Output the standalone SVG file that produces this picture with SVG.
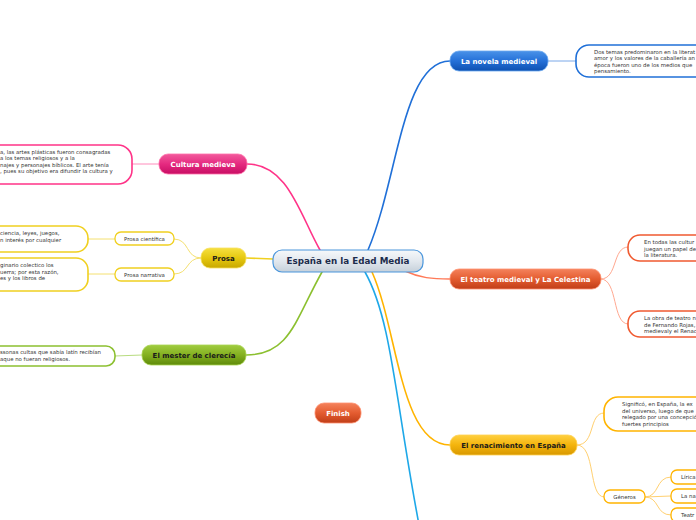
<svg xmlns="http://www.w3.org/2000/svg" width="696" height="520" viewBox="0 0 696 520">
<defs>
<linearGradient id="gPink" x1="0" y1="0" x2="0" y2="1"><stop offset="0" stop-color="#f25a9c"/><stop offset="0.5" stop-color="#e52a80"/><stop offset="1" stop-color="#c80e64"/></linearGradient>
<linearGradient id="gYel" x1="0" y1="0" x2="0" y2="1"><stop offset="0" stop-color="#f6e040"/><stop offset="0.5" stop-color="#e6c810"/><stop offset="1" stop-color="#c8a800"/></linearGradient>
<linearGradient id="gGrn" x1="0" y1="0" x2="0" y2="1"><stop offset="0" stop-color="#a0cc40"/><stop offset="0.5" stop-color="#84b020"/><stop offset="1" stop-color="#5e8a0a"/></linearGradient>
<linearGradient id="gBlu" x1="0" y1="0" x2="0" y2="1"><stop offset="0" stop-color="#4a92e8"/><stop offset="0.5" stop-color="#2470d8"/><stop offset="1" stop-color="#0e50b0"/></linearGradient>
<linearGradient id="gOr" x1="0" y1="0" x2="0" y2="1"><stop offset="0" stop-color="#f4825c"/><stop offset="0.5" stop-color="#e45c30"/><stop offset="1" stop-color="#c03e18"/></linearGradient>
<linearGradient id="gGold" x1="0" y1="0" x2="0" y2="1"><stop offset="0" stop-color="#ffd040"/><stop offset="0.5" stop-color="#f4b40c"/><stop offset="1" stop-color="#d89800"/></linearGradient>
<linearGradient id="gCen" x1="0" y1="0" x2="0" y2="1"><stop offset="0" stop-color="#f6f8fa"/><stop offset="0.5" stop-color="#e2e8ee"/><stop offset="1" stop-color="#c6d0da"/></linearGradient>
</defs>
<style>
.lbl{font-family:"DejaVu Sans",Verdana,sans-serif;font-weight:bold;font-size:7px;text-anchor:middle}
.w{fill:#ffffff}
.d{fill:#1a1a1a}
.sm{font-family:"DejaVu Sans",Verdana,sans-serif;font-size:5.4px;fill:#333333}
.smc{font-family:"DejaVu Sans",Verdana,sans-serif;font-size:5.4px;fill:#333333;text-anchor:middle}
.c{fill:none;stroke-linecap:round}
.box{fill:#ffffff;stroke-width:1.6}
</style>
<g id="connectors">
<path class="c" d="M320,250 C300,215 288,164 247,164" stroke="#ff3388" stroke-width="1.6"/>
<path class="c" d="M368,250 C398,180 402,61 450,61" stroke="#2070d8" stroke-width="1.6"/>
<path class="c" d="M273,259 L246,258" stroke="#f0d020" stroke-width="1.6"/>
<path class="c" d="M322,272 C295,320 290,355 246,355" stroke="#8cc030" stroke-width="1.6"/>
<path class="c" d="M405,271 C420,278 432,279 450,279" stroke="#ff7a58" stroke-width="1.4"/>
<path class="c" d="M372,272 C398,330 400,445 450,445" stroke="#ffb400" stroke-width="1.6"/>
<path class="c" d="M365,272 C392,320 395,400 420,530" stroke="#1ea8e8" stroke-width="1.6"/>
<path class="c" d="M159,164 L132,164" stroke="#ff8cbc" stroke-width="1"/>
<path class="c" d="M201,258 C185,258 190,239 174,239" stroke="#f4e070" stroke-width="1"/>
<path class="c" d="M201,258 C185,258 190,274 174,274" stroke="#f4e070" stroke-width="1"/>
<path class="c" d="M115,239 L88,239" stroke="#f4e070" stroke-width="1"/>
<path class="c" d="M115,274 L88,274" stroke="#f4e070" stroke-width="1"/>
<path class="c" d="M142,355 L115,356" stroke="#b8dc80" stroke-width="1"/>
<path class="c" d="M548,61 L576,61" stroke="#7aa8e8" stroke-width="1"/>
<path class="c" d="M601,279 C618,279 612,247 628,247" stroke="#ffa890" stroke-width="1"/>
<path class="c" d="M601,279 C618,279 612,324 628,324" stroke="#ffa890" stroke-width="1"/>
<path class="c" d="M577,445 C596,445 588,413 604,413" stroke="#ffd070" stroke-width="1"/>
<path class="c" d="M577,445 C596,445 588,497 604,497" stroke="#ffd070" stroke-width="1"/>
<path class="c" d="M645,497 C660,497 655,477 671,477" stroke="#ffd070" stroke-width="1"/>
<path class="c" d="M645,497 L671,496" stroke="#ffd070" stroke-width="1"/>
<path class="c" d="M645,497 C660,497 655,515 671,515" stroke="#ffd070" stroke-width="1"/>
</g>
<g id="center">
<rect x="273" y="250" width="150" height="22" rx="9" fill="url(#gCen)" stroke="#4a96dc" stroke-width="1.2"/>
<text x="348" y="264.3" class="lbl" style="font-size:8.75px;fill:#1c2c4c">España en la Edad Media</text>
</g>
<g id="cultura">
<rect x="159" y="154" width="88" height="20" rx="9" fill="url(#gPink)" stroke="#ff70aa" stroke-width="0.8"/>
<text x="203" y="166.5" class="lbl w">Cultura medieva</text>
</g>
<g id="cultura-text">
<rect x="-60" y="145" width="192" height="39" rx="14" class="box" stroke="#ff3388"/>
<text class="sm"><tspan x="0" y="153.5">a, las artes plásticas fueron consagradas</tspan><tspan x="0" y="160">a los temas religiosos y a la</tspan><tspan x="0" y="166.5">najes y personajes bíblicos. El arte tenía</tspan><tspan x="0" y="173">, pues su objetivo era difundir la cultura y</tspan></text>
</g>
<g id="prosa">
<rect x="201" y="248" width="45" height="20" rx="9" fill="url(#gYel)" stroke="#f6e060" stroke-width="0.8"/>
<text x="223.5" y="260.5" class="lbl d">Prosa</text>
</g>
<g id="prosa-cientifica">
<rect x="115" y="232" width="59" height="13" rx="6" class="box" stroke="#f0d020" style="stroke-width:1.3"/>
<text x="144.5" y="240.5" class="smc">Prosa científica</text>
</g>
<g id="prosa-narrativa">
<rect x="115" y="268" width="59" height="13" rx="6" class="box" stroke="#f0d020" style="stroke-width:1.3"/>
<text x="144.5" y="276.5" class="smc">Prosa narrativa</text>
</g>
<g id="cientifica-text">
<rect x="-60" y="226" width="148" height="26" rx="12" class="box" stroke="#f0d020"/>
<text class="sm"><tspan x="0" y="235">ciencia, leyes, juegos,</tspan><tspan x="0" y="241.5">n interés por cualquier</tspan></text>
</g>
<g id="narrativa-text">
<rect x="-60" y="258" width="148" height="33" rx="12" class="box" stroke="#f0d020"/>
<text class="sm"><tspan x="0" y="267">ginario colectico los</tspan><tspan x="0" y="273.5">uerra; por esta razón,</tspan><tspan x="0" y="280">es y los libros de</tspan></text>
</g>
<g id="mester">
<rect x="142" y="345" width="104" height="20" rx="9" fill="url(#gGrn)" stroke="#a8d450" stroke-width="0.8"/>
<text x="194" y="357.5" class="lbl d">El mester de clerecía</text>
</g>
<g id="mester-text">
<rect x="-60" y="346" width="175" height="20" rx="9" class="box" stroke="#8cc030"/>
<text class="sm"><tspan x="0" y="354">ssonas cultas que sabía latín recibían</tspan><tspan x="0" y="360.5">aque no fueran religiosos.</tspan></text>
</g>
<g id="novela">
<rect x="450" y="51" width="98" height="20" rx="9" fill="url(#gBlu)" stroke="#6aa8f0" stroke-width="0.8"/>
<text x="499" y="63.5" class="lbl w">La novela medieval</text>
</g>
<g id="novela-text">
<rect x="576" y="45" width="180" height="32" rx="13" class="box" stroke="#2070d8"/>
<text class="sm"><tspan x="594" y="53.5">Dos temas predominaron en la literat</tspan><tspan x="594" y="60">amor y los valores de la caballería an</tspan><tspan x="594" y="66.5">época fueron uno de los medios que</tspan><tspan x="594" y="73">pensamiento.</tspan></text>
</g>
<g id="teatro">
<rect x="450" y="269" width="151" height="20" rx="9" fill="url(#gOr)" stroke="#ff9070" stroke-width="0.8"/>
<text x="525.5" y="281.5" class="lbl w">El teatro medieval y La Celestina</text>
</g>
<g id="teatro-text1">
<rect x="628" y="235" width="120" height="26" rx="12" class="box" stroke="#f05a30"/>
<text class="sm"><tspan x="644" y="244">En todas las cultur</tspan><tspan x="644" y="250.5">juegan un papel de</tspan><tspan x="644" y="257">la literatura.</tspan></text>
</g>
<g id="teatro-text2">
<rect x="628" y="311" width="120" height="26" rx="12" class="box" stroke="#f05a30"/>
<text class="sm"><tspan x="644" y="320">La obra de teatro n</tspan><tspan x="644" y="326.5">de Fernando Rojas,</tspan><tspan x="644" y="333">medievaly el Renac</tspan></text>
</g>
<g id="renacimiento">
<rect x="450" y="435" width="127" height="20" rx="9" fill="url(#gGold)" stroke="#ffd050" stroke-width="0.8"/>
<text x="513.5" y="447.5" class="lbl d">El renacimiento en España</text>
</g>
<g id="renacimiento-text">
<rect x="604" y="397" width="150" height="34" rx="14" class="box" stroke="#ffb400"/>
<text class="sm"><tspan x="622" y="406">Significó, en España, la ex</tspan><tspan x="622" y="412.5">del universo, luego de que</tspan><tspan x="622" y="419">relegado por una concepció</tspan><tspan x="622" y="425.5">fuertes principios</tspan></text>
</g>
<g id="generos">
<rect x="604" y="490" width="41" height="13" rx="6" class="box" stroke="#ffb400" style="stroke-width:1.3"/>
<text x="624.5" y="498.5" class="smc">Géneros</text>
</g>
<g id="lirica">
<rect x="671" y="470" width="60" height="14" rx="6" class="box" stroke="#ffb400" style="stroke-width:1.3"/>
<text x="681" y="479" class="sm">Lírica</text>
</g>
<g id="narrativa">
<rect x="671" y="489" width="60" height="14" rx="6" class="box" stroke="#ffb400" style="stroke-width:1.3"/>
<text x="681" y="498" class="sm">La na</text>
</g>
<g id="teatro-genero">
<rect x="671" y="508" width="60" height="14" rx="6" class="box" stroke="#ffb400" style="stroke-width:1.3"/>
<text x="681" y="517" class="sm">Teatr</text>
</g>
<g id="finish">
<rect x="315" y="403" width="46" height="20" rx="9" fill="url(#gOr)" stroke="#ff9070" stroke-width="0.8"/>
<text x="338" y="415.5" class="lbl w">Finish</text>
</g>
</svg>
